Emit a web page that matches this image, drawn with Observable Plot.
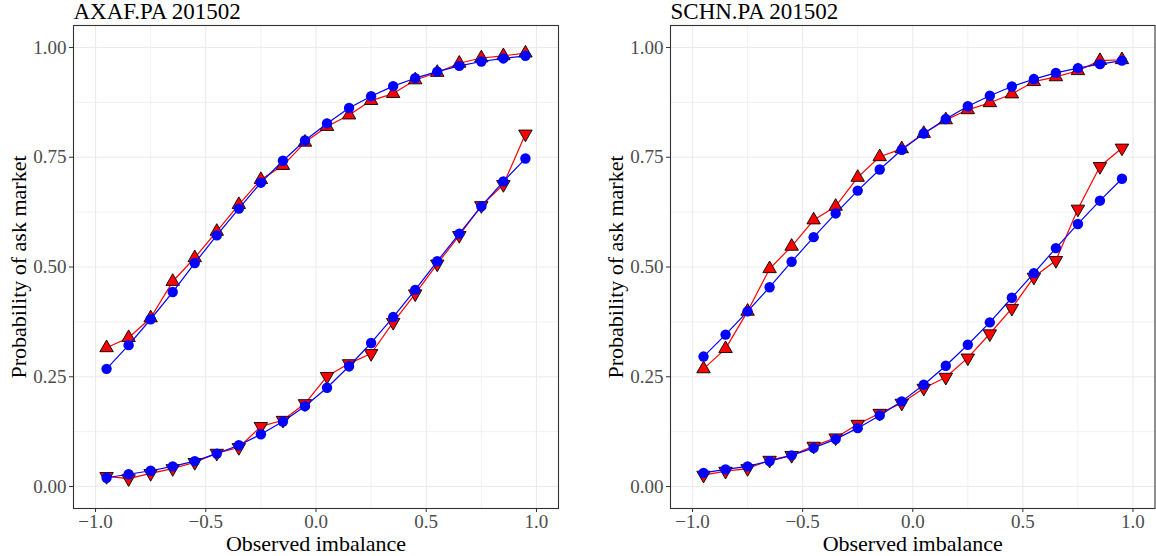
<!DOCTYPE html>
<html>
<head>
<meta charset="utf-8">
<script src="https://cdn.jsdelivr.net/npm/d3@7"></script>
<script src="https://cdn.jsdelivr.net/npm/@observablehq/plot@0.6"></script>
<style>
  html, body { margin: 0; padding: 0; background: #fff; }
  #wrap { position: relative; width: 1156px; height: 556px; overflow: hidden; }
  #wrap > svg { position: absolute; top: 0; }
</style>
</head>
<body>
<div id="wrap"></div>
<script>
const imbalance = [-0.95, -0.85, -0.75, -0.65, -0.55, -0.45, -0.35, -0.25, -0.15, -0.05,
                   0.05, 0.15, 0.25, 0.35, 0.45, 0.55, 0.65, 0.75, 0.85, 0.95];

// AXAF.PA 201502
const axafEmpUp    = [0.316, 0.339, 0.384, 0.467, 0.521, 0.581, 0.642, 0.699, 0.731, 0.784,
                      0.820, 0.846, 0.879, 0.895, 0.926, 0.943, 0.964, 0.976, 0.981, 0.987];
const axafModelUp  = [0.268, 0.322, 0.381, 0.443, 0.509, 0.572, 0.633, 0.692, 0.742, 0.788,
                      0.827, 0.862, 0.889, 0.912, 0.930, 0.945, 0.958, 0.968, 0.975, 0.981];
const axafEmpDown  = [0.023, 0.018, 0.030, 0.041, 0.055, 0.076, 0.089, 0.137, 0.151, 0.189,
                      0.251, 0.280, 0.303, 0.374, 0.439, 0.507, 0.572, 0.640, 0.688, 0.803];
const axafModelDown= [0.020, 0.028, 0.036, 0.046, 0.058, 0.075, 0.094, 0.119, 0.148, 0.183,
                      0.225, 0.274, 0.327, 0.386, 0.448, 0.513, 0.576, 0.638, 0.695, 0.747];

// SCHN.PA 201502
const schnEmpUp    = [0.268, 0.314, 0.399, 0.496, 0.547, 0.607, 0.638, 0.704, 0.751, 0.769,
                      0.804, 0.835, 0.858, 0.874, 0.894, 0.922, 0.933, 0.947, 0.970, 0.972];
const schnModelUp  = [0.296, 0.346, 0.399, 0.454, 0.512, 0.568, 0.622, 0.674, 0.722, 0.767,
                      0.804, 0.837, 0.866, 0.890, 0.911, 0.928, 0.942, 0.953, 0.962, 0.970];
const schnEmpDown  = [0.026, 0.035, 0.041, 0.060, 0.071, 0.092, 0.111, 0.142, 0.167, 0.190,
                      0.224, 0.249, 0.293, 0.348, 0.406, 0.477, 0.515, 0.632, 0.729, 0.771];
const schnModelDown= [0.031, 0.039, 0.046, 0.058, 0.071, 0.088, 0.108, 0.133, 0.162, 0.194,
                      0.232, 0.275, 0.323, 0.374, 0.430, 0.486, 0.543, 0.598, 0.651, 0.701];

const xTicks = [-1, -0.5, 0, 0.5, 1];
const xMinor = [-0.75, -0.25, 0.25, 0.75];
const yTicks = [0, 0.25, 0.5, 0.75, 1];
const yMinor = [0.125, 0.375, 0.625, 0.875];

const titles = ["AXAF.PA 201502", "SCHN.PA 201502"];
const xTitle = "Observed imbalance";
const yTitle = "Probability of ask market";

const FONT = "Liberation Serif";
const toPts = arr => imbalance.map((x, i) => ({x, y: arr[i]}));

function panel(title, empUp, modelUp, empDown, modelDown, width, marginRight) {
  const eu = toPts(empUp), mu = toPts(modelUp), ed = toPts(empDown), md = toPts(modelDown);
  return Plot.plot({
    width, height: 556,
    marginLeft: 73, marginRight, marginTop: 25, marginBottom: 48,
    style: {fontFamily: FONT, fontSize: "19px", background: "white", overflow: "visible"},
    x: {domain: [-1.1, 1.1]},
    y: {domain: [-0.05, 1.05]},
    marks: [
      Plot.ruleX(xMinor, {stroke: "#ebebeb", strokeWidth: 0.7}),
      Plot.ruleY(yMinor, {stroke: "#ebebeb", strokeWidth: 0.7}),
      Plot.ruleX(xTicks, {stroke: "#ebebeb", strokeWidth: 1.1}),
      Plot.ruleY(yTicks, {stroke: "#ebebeb", strokeWidth: 1.1}),
      Plot.axisX(xTicks, {tickSize: 4, tickPadding: 2, stroke: "#333", fill: "#4d4d4d",
                          tickFormat: d3.format(".1f"), label: null, fontSize: 19}),
      Plot.axisY(yTicks, {tickSize: 4, tickPadding: 3, stroke: "#333", fill: "#4d4d4d",
                          tickFormat: d3.format(".2f"), label: null, fontSize: 19}),
      Plot.line(eu, {x: "x", y: "y", stroke: "#ff0000", strokeWidth: 1.2}),
      Plot.dot(eu, {x: "x", y: "y", symbol: "triangle", r: 5, fill: "#ff0000", stroke: "black", strokeWidth: 0.9}),
      Plot.line(ed, {x: "x", y: "y", stroke: "#ff0000", strokeWidth: 1.2}),
      Plot.dot(ed, {x: "x", y: "y", symbol: "triangle", r: 5, rotate: 180, fill: "#ff0000", stroke: "black", strokeWidth: 0.9}),
      Plot.line(mu, {x: "x", y: "y", stroke: "#0000ff", strokeWidth: 1.2}),
      Plot.dot(mu, {x: "x", y: "y", r: 5.2, fill: "#0000ff", stroke: "none"}),
      Plot.line(md, {x: "x", y: "y", stroke: "#0000ff", strokeWidth: 1.2}),
      Plot.dot(md, {x: "x", y: "y", r: 5.2, fill: "#0000ff", stroke: "none"}),
      Plot.frame({stroke: "#333", strokeWidth: 1.1}),
      Plot.text([title], {frameAnchor: "top-left", dy: -14, lineAnchor: "middle", textAnchor: "start",
                          fontSize: 23, fill: "black"}),
      Plot.text([xTitle], {frameAnchor: "bottom", dy: 35, lineAnchor: "middle", textAnchor: "middle",
                           fontSize: 22, fill: "black"}),
      Plot.text([yTitle], {frameAnchor: "left", dx: -55, rotate: -90, lineAnchor: "middle", textAnchor: "middle",
                           fontSize: 22, fill: "black"})
    ]
  });
}

const wrap = document.getElementById("wrap");
const p1 = panel(titles[0], axafEmpUp, axafModelUp, axafEmpDown, axafModelDown, 597, 39);
const p2 = panel(titles[1], schnEmpUp, schnModelUp, schnEmpDown, schnModelDown, 559, 1.5);
p1.style.left = "0px";
p2.style.left = "597px";
wrap.appendChild(p1);
wrap.appendChild(p2);
</script>
</body>
</html>
